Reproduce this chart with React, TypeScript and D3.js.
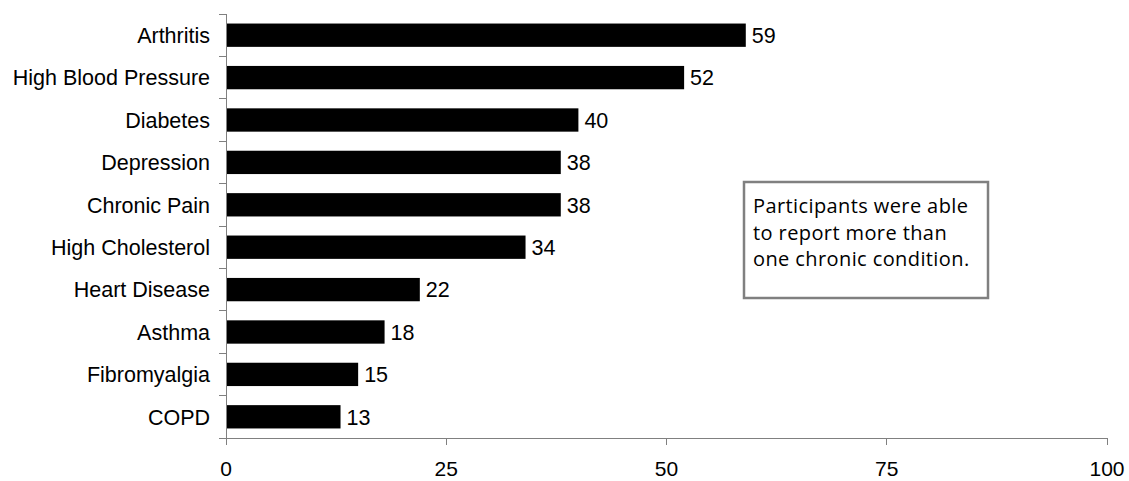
import React from "react";
import * as d3 from "d3";

const categories = [
  "Arthritis",
  "High Blood Pressure",
  "Diabetes",
  "Depression",
  "Chronic Pain",
  "High Cholesterol",
  "Heart Disease",
  "Asthma",
  "Fibromyalgia",
  "COPD",
];
const values = [59, 52, 40, 38, 38, 34, 22, 18, 15, 13];
const xTicks = [0, 25, 50, 75, 100];
const noteLines = [
  "Participants were able",
  "to report more than",
  "one chronic condition.",
];

const W = 1129;
const H = 481;
const left = 226;
const right = 1107;
const top = 14;
const bottom = 438;

export default function App() {
  const x = d3.scaleLinear().domain([0, 100]).range([left, right]);
  const y = d3
    .scaleBand<string>()
    .domain(categories)
    .range([top, bottom])
    .paddingInner(0.45)
    .paddingOuter(0.225);
  const font = "'Liberation Sans', Arial, sans-serif";
  const axisColor = "#808080";
  const boundaries = d3
    .range(categories.length + 1)
    .map((i) => top + i * ((bottom - top) / categories.length));

  return (
    <div style={{ position: "absolute", left: 0, top: 0 }}>
      <svg width={W} height={H} style={{ display: "block", background: "#fff" }}>
        {categories.map((c, i) => (
          <g key={c}>
            <rect
              x={x(0) + 1}
              y={y(c)!}
              width={x(values[i]) - x(0) - 1}
              height={y.bandwidth()}
              fill="#000"
            />
            <text
              x={x(values[i]) + 6}
              y={y(c)! + y.bandwidth() / 2}
              dy="0.36em"
              fontFamily={font}
              fontSize={21.5}
              fill="#000"
            >
              {values[i]}
            </text>
            <text
              x={left - 16}
              y={y(c)! + y.bandwidth() / 2}
              dy="0.36em"
              textAnchor="end"
              fontFamily={font}
              fontSize={21.5}
              fill="#000"
            >
              {c}
            </text>
          </g>
        ))}
        <line x1={left} x2={left} y1={top} y2={bottom} stroke={axisColor} strokeWidth={1} shapeRendering="crispEdges" />
        {boundaries.map((b, i) => (
          <line key={i} x1={left - 7} x2={left} y1={b} y2={b} stroke={axisColor} strokeWidth={1} shapeRendering="crispEdges" />
        ))}
        <line x1={left} x2={right} y1={bottom} y2={bottom} stroke={axisColor} strokeWidth={1} shapeRendering="crispEdges" />
        {xTicks.map((t) => (
          <g key={t}>
            <line x1={x(t)} x2={x(t)} y1={bottom} y2={bottom + 7} stroke={axisColor} strokeWidth={1} shapeRendering="crispEdges" />
            <text
              x={x(t)}
              y={476}
              textAnchor="middle"
              fontFamily={font}
              fontSize={21}
              fill="#000"
            >
              {t}
            </text>
          </g>
        ))}
        <rect x={744} y={182} width={244} height={116} fill="#fff" stroke="#808080" strokeWidth={2.5} />
        {noteLines.map((l, i) => (
          <text
            key={i}
            x={753}
            y={213 + i * 26.5}
            fontFamily="'Open Sans', 'Noto Sans', sans-serif"
            fontSize={20}
            letterSpacing={0.4}
            fill="#000"
          >
            {l}
          </text>
        ))}
      </svg>
    </div>
  );
}
